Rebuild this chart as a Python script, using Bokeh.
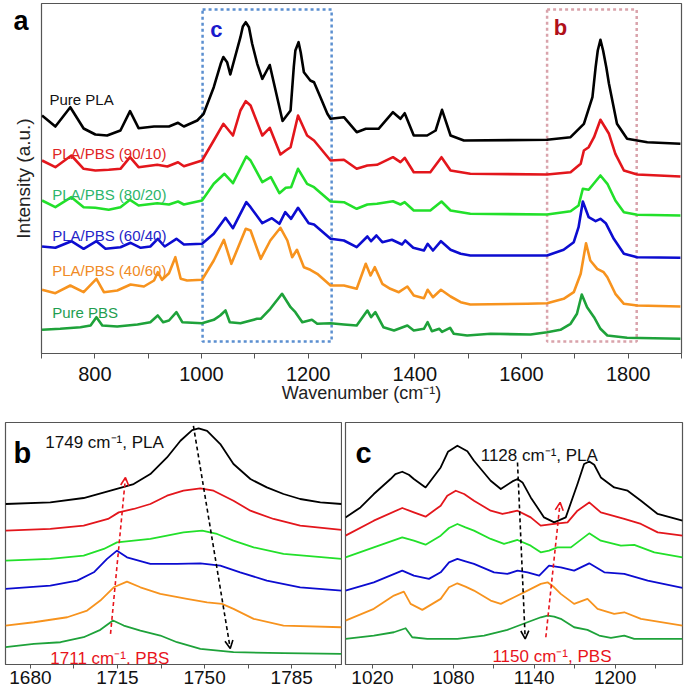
from bokeh.plotting import figure
from bokeh.models import Range1d, FixedTicker, Label, Arrow, OpenHead
from bokeh.layouts import column, row
from bokeh.embed import file_html
from bokeh.resources import INLINE

FONT = "Liberation Sans"

# ---------------- data ----------------
series_names = ["Pure PLA", "PLA/PBS (90/10)", "PLA/PBS (80/20)",
                "PLA/PBS (60/40)", "PLA/PBS (40/60)", "Pure PBS"]
line_colors = ["#000000", "#e3161c", "#22e02a", "#0c0cd0", "#f7931e", "#1ea23a"]
label_colors = ["#111111", "#e02424", "#2cb56b", "#2424c8", "#f08a24", "#1e9e50"]

# panel a : full spectra (stacked, arbitrary units)
a_pla_w = [701, 726, 754, 779, 801, 823, 848, 866, 882, 911, 939, 956, 967, 992, 1004, 1023, 1036, 1041, 1048,
           1054, 1073, 1077.5, 1083, 1089, 1095, 1104.5, 1114, 1128, 1152, 1167, 1173, 1176, 1182, 1186, 1192,
           1204, 1211, 1223, 1236, 1242, 1267, 1291, 1308, 1332, 1359, 1373, 1381, 1398, 1423, 1439, 1451,
           1467, 1492, 1648, 1692, 1717, 1733, 1739, 1743, 1748, 1753, 1759, 1764, 1779, 1798, 1836, 1898]
a_pla_y = [238, 227, 246.3, 225, 219, 218, 223, 242.3, 225.3, 227, 227, 230.7, 227, 233, 239.7, 266.3, 289.7,
           296.5, 291.3, 279, 316.3, 327, 331.3, 326.3, 309.7, 289.7, 274.7, 288.5, 232.5, 243, 286.3, 303,
           311.3, 301.3, 281.3, 273, 271.3, 256.3, 239.7, 234.7, 236.3, 221.3, 224.7, 224.7, 241.3, 234.7,
           240.3, 218, 218, 223, 243.7, 218, 213, 213.7, 216.3, 229.7, 256.3, 286.3, 303, 313.7, 303, 286.3,
           269.7, 229.7, 214.7, 211.3, 209.7]

a_9010_w = [701, 726, 756, 779, 801, 826, 848, 866, 882, 917, 936, 956, 967, 1001, 1023, 1041, 1059, 1073,
            1083, 1092, 1114, 1128, 1148, 1158, 1167, 1181, 1198, 1211, 1242, 1267, 1291, 1311, 1329, 1359,
            1373, 1381, 1398, 1429, 1450, 1467, 1504, 1648, 1692, 1711, 1717, 1726, 1736, 1748, 1764, 1776,
            1792, 1817, 1898]
a_9010_y = [193, 186.3, 198, 184.7, 183, 183.7, 184.7, 196.3, 186.3, 188.7, 187, 191.3, 187.3, 193, 213, 229.7,
            218, 243, 252.3, 248, 218, 225.7, 199, 203, 206.3, 238, 218, 213, 193, 193.7, 184.7, 188, 188.7,
            196.3, 191.3, 195.7, 181.3, 181.3, 196.3, 183, 179.7, 179, 181.3, 189.7, 203, 206.3, 216.3, 233.7,
            219.7, 199.7, 183, 179, 177]

a_8020_w = [701, 726, 756, 779, 801, 826, 848, 866, 882, 917, 939, 956, 967, 1001, 1023, 1043, 1059, 1084,
            1092, 1114, 1130, 1146, 1158, 1168, 1181, 1198, 1211, 1242, 1267, 1291, 1311, 1329, 1359, 1373,
            1381, 1398, 1429, 1450, 1467, 1504, 1648, 1692, 1707, 1715, 1726, 1748, 1761, 1776, 1792, 1817,
            1898]
a_8020_y = [153, 146.3, 156.3, 146.3, 145.7, 143.7, 146.3, 153.7, 148, 150.3, 149, 152, 149, 153, 169.7, 179.7,
            170.3, 197, 193, 171.3, 176.3, 160.3, 165.7, 166.3, 184.7, 169.7, 166.3, 152, 151.3, 144.7, 149,
            149.7, 152.3, 149, 151.3, 143, 143, 152, 143, 139.7, 139, 142.3, 148, 164.7, 163.7, 178, 169.7,
            153, 141.3, 138.7, 138]

a_6040_w = [701, 726, 756, 779, 803, 820, 848, 867, 886, 904, 918, 931, 953, 967, 1001, 1023, 1045, 1059,
            1084, 1092, 1114, 1132, 1146, 1157, 1168, 1181, 1201, 1211, 1242, 1267, 1291, 1311, 1318, 1328,
            1339, 1357, 1376, 1382, 1397, 1417, 1424, 1434, 1449, 1467, 1486, 1504, 1648, 1679, 1698, 1707,
            1715, 1726, 1739, 1748, 1758, 1773, 1792, 1817, 1898]
a_6040_y = [107, 105.7, 112.3, 104.7, 112.3, 104.7, 106.3, 110.7, 105.7, 107, 114.7, 107, 114.7, 109, 109.7,
            119.7, 135.7, 125.3, 151.3, 146.3, 130.3, 135.3, 129.7, 141.3, 134.7, 145.7, 130.3, 129, 114.7,
            113, 106.3, 117, 112.3, 118, 111.3, 113.7, 109, 113, 105.7, 103, 109.7, 103, 112.3, 103.7, 99.7,
            98, 98, 103.7, 111.3, 126.3, 152, 136.3, 132.3, 134.7, 130.3, 114.7, 99.7, 96.3, 95.7]

a_4060_w = [701, 726, 754, 779, 803, 817, 842, 867, 892, 911, 918, 926, 939, 951, 961, 973, 1001, 1023, 1042,
            1056, 1083, 1092, 1111, 1129, 1148, 1161, 1170, 1179, 1192, 1204, 1217, 1242, 1267, 1291, 1308,
            1317, 1325, 1339, 1354, 1370, 1386, 1398, 1417, 1424, 1434, 1449, 1467, 1486, 1504, 1611, 1648,
            1679, 1698, 1711, 1721, 1729, 1742, 1754, 1761, 1776, 1792, 1817, 1898]
a_4060_y = [63.7, 60.3, 68, 61.3, 74.7, 61.3, 63, 69, 67, 73, 81.3, 73.7, 80.3, 96.3, 74.7, 73, 73.7, 93,
            113.7, 89.7, 124.7, 123, 94.7, 113, 125.7, 113, 96.3, 103.7, 86.3, 83.7, 79.7, 68, 68, 64.7, 89.7,
            78, 86.3, 69.7, 64.7, 61.3, 67, 58, 55.3, 63.7, 56.3, 63.7, 57, 51.3, 49, 49.7, 50.3, 54.7, 61.3,
            79.7, 110.3, 93, 84.7, 81.3, 76.3, 59.7, 49.7, 48, 47]

a_pbs_w = [701, 735, 773, 792, 803, 814, 842, 880, 904, 918, 928, 939, 953, 964, 1001, 1023, 1035, 1045, 1053,
           1073, 1104, 1111, 1129, 1151, 1167, 1176, 1189, 1207, 1217, 1242, 1267, 1291, 1311, 1318, 1326,
           1341, 1361, 1386, 1398, 1417, 1424, 1432, 1446, 1451, 1466, 1473, 1498, 1542, 1617, 1648, 1673,
           1692, 1704, 1713, 1723, 1736, 1748, 1761, 1798, 1898]
a_pbs_y = [23.7, 24.7, 26.3, 28, 36.3, 28, 27, 29, 31.3, 38, 31.3, 33, 41.3, 31.3, 30.3, 33.7, 38, 43, 31.3,
           30.3, 34.7, 34.7, 44.7, 59.7, 46.3, 41.3, 31.3, 33.7, 29.7, 30.3, 29, 28, 43, 36.3, 41.3, 26.3, 23,
           28, 23, 24.7, 31.3, 22.3, 24.7, 21.7, 25.7, 19.7, 18, 19.7, 19, 21.3, 23.7, 29.7, 39.7, 59, 46.3,
           36.3, 24.7, 18, 15.7, 14.7]

a_label_x = [715, 720, 720, 720, 720, 720]
a_label_y = [254, 200.3, 159.3, 117.7, 82.7, 40.7]

# zoom windows marked in panel a
window_c = [1002, 1244]
window_b = [1648, 1816]

# panel b : C=O region
b_pla_w = [1670, 1688, 1701.4, 1712.2, 1721.5, 1728.2, 1734.9, 1740.3, 1745, 1747.6, 1751, 1756.3, 1761.6,
           1768.4, 1775, 1781.7, 1788.4, 1796.5, 1805]
b_pla_y = [160.7, 162.3, 166.7, 174, 180.7, 190.7, 207.3, 224, 234.7, 236.3, 234, 220.7, 200.7, 185.7, 177.3,
           170.7, 165.7, 162.3, 160.7]
b_9010_w = [1670, 1688, 1701.4, 1711.2, 1715.5, 1721.5, 1728.2, 1734.9, 1741.5, 1748.3, 1753.6, 1761.6,
            1768.4, 1777.7, 1788.4, 1805]
b_9010_y = [134, 135.7, 139, 145.7, 152.3, 155.7, 160.7, 169, 174, 176.3, 174, 164, 154, 145.7, 139, 134.7]
b_8020_w = [1670, 1688, 1701.4, 1709.5, 1714.8, 1721.5, 1728.2, 1734.9, 1741.5, 1749, 1755, 1761.6, 1769.7,
            1781.7, 1805]
b_8020_y = [104, 105.7, 109, 115.7, 122.3, 124, 125.7, 129, 132.3, 134, 130.7, 124, 117.3, 110.7, 105.7]
b_6040_w = [1670, 1688, 1698.8, 1705.5, 1710.8, 1714.8, 1718.8, 1728.2, 1738.9, 1748.3, 1756.3, 1764.3,
            1775, 1788.4, 1805]
b_6040_y = [75.7, 79, 84, 92.3, 105.7, 114, 107.3, 100.7, 100.7, 101.3, 99, 92.3, 84, 77.3, 74]
b_4060_w = [1670, 1681.4, 1694.8, 1702.8, 1708.1, 1713.5, 1718.8, 1724.2, 1732.2, 1742.9, 1751, 1757,
            1761.6, 1769.7, 1781.7, 1805]
b_4060_y = [39, 42.3, 47.3, 54, 64, 77.3, 83, 77.3, 70.7, 65.7, 62.3, 60.7, 55.7, 45.7, 39, 37.3]
b_pbs_w = [1670, 1681.4, 1692.1, 1701.4, 1708.1, 1713.2, 1717.5, 1724.2, 1732.2, 1738.9, 1748.3, 1761.6,
           1781.7, 1805]
b_pbs_y = [17.3, 20.7, 22.3, 27.3, 34.7, 44, 39, 34, 29, 22.3, 15.7, 12.3, 11.3, 10.7]

# panel c : C-O-C region
c_pla_w = [1000, 1011.1, 1021, 1033.4, 1037, 1042.1, 1047, 1050.7, 1059.4, 1070.6, 1076, 1083, 1090.4, 1095.3,
           1107.7, 1115.2, 1123.8, 1127.6, 1131.3, 1137.4, 1147.3, 1154.8, 1163.4, 1172.1, 1177, 1180.8,
           1184.5, 1189.4, 1199.3, 1209.3, 1219.2, 1231.6, 1250]
c_pla_y = [147.3, 157.3, 170.7, 185.7, 190.7, 193, 190, 185.7, 177.3, 197.3, 213, 219, 213.5, 204, 184, 175.7,
           183.3, 185.7, 182.3, 167.3, 147.3, 142.3, 147.3, 180.7, 200.7, 203.3, 200, 187.3, 177.3, 174, 164,
           150.7, 144]
c_9010_w = [1000, 1021, 1042.1, 1050.7, 1059.4, 1070.6, 1075.5, 1081.8, 1088, 1095.3, 1107.7, 1116.4, 1127.6,
            1137.4, 1144.8, 1154.8, 1164.7, 1172.1, 1180.8, 1189.4, 1206.8, 1219.2, 1231.6, 1250]
c_9010_y = [129, 144, 156.7, 152.3, 148, 159, 169, 174, 170.7, 164, 154, 150.7, 154, 147.3, 139, 140.7, 142.3,
            154, 162.3, 152.3, 145.7, 140.7, 132.3, 129]
c_8020_w = [1000, 1021, 1042.1, 1050.7, 1059.4, 1070.6, 1076.8, 1083, 1089, 1095.3, 1107.7, 1117.6, 1127.6,
            1137.4, 1144.8, 1151, 1157.2, 1167.2, 1180.8, 1189.4, 1204.3, 1214.2, 1229.1, 1250]
c_8020_y = [107.3, 117.3, 127.3, 124, 120, 129, 136.7, 140.7, 137.3, 134, 125.7, 120.7, 124.7, 119, 112.3, 114,
            117.3, 117.3, 131.3, 124, 119, 119.7, 112.3, 107.3]
c_6040_w = [1000, 1021, 1042.1, 1050.7, 1061.9, 1070.6, 1076.8, 1083, 1089, 1095.3, 1110.2, 1120.1, 1127.6,
            1135, 1143.7, 1151, 1159.7, 1169.6, 1180.8, 1192, 1206.8, 1224.2, 1250]
c_6040_y = [74, 82.3, 94, 89, 85.7, 92.3, 102.3, 105.7, 103.3, 100.7, 92.3, 90.7, 94, 92.3, 89, 99, 97.3, 94,
            101.3, 92.3, 90.7, 84, 76.7]
c_4060_w = [1000, 1021, 1035.9, 1043.3, 1048.3, 1057, 1070.6, 1076.8, 1083, 1089, 1095.3, 1107.7, 1115.2,
            1125.1, 1135, 1144.9, 1149.9, 1154.8, 1159.7, 1169.6, 1179.5, 1187, 1199.3, 1206.8, 1219.2, 1250]
c_4060_y = [44, 55.7, 69, 73, 60.7, 54.7, 65.7, 77.3, 81.3, 78, 74, 64, 60.7, 67.3, 74, 80.7, 82.3, 77.3, 70.7,
            60.7, 65.7, 55.7, 50.7, 52.3, 45.7, 39]
c_pbs_w = [1000, 1021, 1035.9, 1044.6, 1049.5, 1060.7, 1083, 1102.8, 1120.1, 1135, 1144.9, 1149.9, 1154.8,
           1159.7, 1169.6, 1179.5, 1188.2, 1196.9, 1206.8, 1214.2, 1250]
c_pbs_y = [25.7, 29, 32.3, 36.3, 27.3, 25.7, 25.7, 29, 34.7, 42.3, 47.3, 49, 48, 45.7, 37.3, 34.7, 29, 26.7,
           29, 25.7, 25.7]

# tick labels
a_ticks = [800, 1000, 1200, 1400, 1600, 1800]
a_minor = [700, 900, 1100, 1300, 1500, 1700, 1900]
b_ticks = [1680, 1715, 1750, 1785]
b_minor = [1697.5, 1732.5, 1767.5, 1802.5]
c_ticks = [1020, 1080, 1140, 1200]
c_minor = [1050, 1110, 1170, 1230]

# annotation anchors (wavenumber, intensity)
b_arrow_pla = (1745.5, 239, 1760.3, 16)
b_arrow_pbs = (1712.2, 30.7, 1718.2, 187.3)
c_arrow_pla = (1127.6, 202.3, 1133.3, 25.7)
c_arrow_pbs = (1148.6, 27.3, 1159.2, 162.3)
panel_a_letter_y = 333

a_series = [(a_pla_w, a_pla_y), (a_9010_w, a_9010_y), (a_8020_w, a_8020_y),
            (a_6040_w, a_6040_y), (a_4060_w, a_4060_y), (a_pbs_w, a_pbs_y)]
b_series = [(b_pla_w, b_pla_y), (b_9010_w, b_9010_y), (b_8020_w, b_8020_y),
            (b_6040_w, b_6040_y), (b_4060_w, b_4060_y), (b_pbs_w, b_pbs_y)]
c_series = [(c_pla_w, c_pla_y), (c_9010_w, c_9010_y), (c_8020_w, c_8020_y),
            (c_6040_w, c_6040_y), (c_4060_w, c_4060_y), (c_pbs_w, c_pbs_y)]

FRAME = "#555555"


def style_xaxis(p, ticks, minor, size, tick_len, standoff):
    ax = p.xaxis[0]
    ax.ticker = FixedTicker(ticks=ticks, minor_ticks=minor)
    ax.major_tick_out = tick_len
    ax.major_tick_in = 0
    ax.minor_tick_out = tick_len
    ax.minor_tick_in = 0
    ax.major_tick_line_color = FRAME
    ax.minor_tick_line_color = FRAME
    ax.axis_line_color = FRAME
    ax.major_label_text_font = FONT
    ax.major_label_text_font_size = size
    ax.major_label_text_color = "#111111"
    ax.major_label_standoff = standoff


def base_fig(w, h, xr, yr, mb):
    p = figure(width=w, height=h, x_range=Range1d(*xr), y_range=Range1d(*yr),
               output_backend="svg", toolbar_location=None,
               min_border_left=mb[0], min_border_right=mb[1],
               min_border_top=mb[2], min_border_bottom=mb[3])
    p.xgrid.visible = False
    p.ygrid.visible = False
    p.outline_line_color = FRAME
    p.outline_line_width = 1.2
    p.background_fill_color = "white"
    p.border_fill_color = "white"
    return p


# ---------------- panel a ----------------
pa = base_fig(685, 410, (700, 1900), (0, 350), (41, 4, 3, 57))
style_xaxis(pa, a_ticks, a_minor, "20px", 5, 8)
pa.xaxis.axis_label = "Wavenumber (cm\u207b\u00b9)"
pa.xaxis.axis_label_text_font = FONT
pa.xaxis.axis_label_text_font_style = "normal"
pa.xaxis.axis_label_text_font_size = "18px"
pa.xaxis.axis_label_text_color = "#222222"
pa.xaxis.axis_label_standoff = -1
ya = pa.yaxis[0]
ya.ticker = FixedTicker(ticks=[panel_a_letter_y])
ya.major_label_overrides = {panel_a_letter_y: "a"}
ya.major_label_text_font = FONT
ya.major_label_text_font_size = "27px"
ya.major_label_text_font_style = "bold"
ya.major_label_text_color = "#000000"
ya.major_label_standoff = 7
ya.axis_line_color = None
ya.major_tick_line_color = None
ya.minor_tick_line_color = None
ya.axis_label = "Intensity (a.u.)"
ya.axis_label_text_font = FONT
ya.axis_label_text_font_style = "normal"
ya.axis_label_text_font_size = "19px"
ya.axis_label_text_color = "#222222"
ya.axis_label_standoff = -24

pa.quad(left=[window_c[0]], right=[window_c[1]], bottom=[12], top=[344], fill_color=None,
        line_color="#5b8fd0", line_width=2.5, line_dash="3 3")
pa.quad(left=[window_b[0]], right=[window_b[1]], bottom=[12], top=[344], fill_color=None,
        line_color="#d9a3ab", line_width=2.5, line_dash="3 3")

for (xs, ys), col in zip(a_series, line_colors):
    pa.line(xs, ys, line_color=col, line_width=2.6, line_join="round")

for name, col, lx, ly in zip(series_names, label_colors, a_label_x, a_label_y):
    pa.add_layout(Label(x=lx, y=ly, text=name, text_font=FONT, text_font_size="15px",
                        text_color=col, text_baseline="alphabetic", text_align="left"))

pa.add_layout(Label(x=1028, y=324, text="c", text_font=FONT, text_font_size="22px",
                    text_font_style="bold", text_color="#1a1acc", text_align="center",
                    text_baseline="middle"))
pa.add_layout(Label(x=1673, y=326, text="b", text_font=FONT, text_font_size="22px",
                    text_font_style="bold", text_color="#b0101a", text_align="center",
                    text_baseline="middle"))

# ---------------- panel b ----------------
pb = base_fig(342, 281, (1670, 1805), (0, 242.3), (5, 1, 12, 27))
style_xaxis(pb, b_ticks, b_minor, "19px", 4, 2)
pb.yaxis.visible = False
for (xs, ys), col in zip(b_series, line_colors):
    pb.line(xs, ys, line_color=col, line_width=1.8, line_join="round")

pb.add_layout(Arrow(x_start=b_arrow_pla[0], y_start=b_arrow_pla[1], x_end=b_arrow_pla[2],
                    y_end=b_arrow_pla[3], line_color="#000000", line_width=1.6, line_dash="4 3",
                    end=OpenHead(size=8, line_color="#000000", line_width=1.6)))
pb.add_layout(Arrow(x_start=b_arrow_pbs[0], y_start=b_arrow_pbs[1], x_end=b_arrow_pbs[2],
                    y_end=b_arrow_pbs[3], line_color="#e8141c", line_width=1.6, line_dash="4 3",
                    end=OpenHead(size=8, line_color="#e8141c", line_width=1.6)))
pb.add_layout(Label(x=1673.2, y=212, text="b", text_font=FONT, text_font_size="29px",
                    text_font_style="bold", text_color="#000000", text_baseline="alphabetic"))
pb.add_layout(Label(x=1686, y=222, text="1749 cm\u207b\u00b9, PLA", text_font=FONT,
                    text_font_size="17px", text_color="#111111", text_baseline="alphabetic"))
pb.add_layout(Label(x=1688, y=6, text="1711 cm\u207b\u00b9, PBS", text_font=FONT,
                    text_font_size="17px", text_color="#e8141c", text_baseline="alphabetic"))

# ---------------- panel c ----------------
pc = base_fig(343, 281, (1000, 1250), (0, 242.3), (3, 3, 12, 27))
style_xaxis(pc, c_ticks, c_minor, "19px", 4, 2)
pc.yaxis.visible = False
for (xs, ys), col in zip(c_series, line_colors):
    pc.line(xs, ys, line_color=col, line_width=1.8, line_join="round")

pc.add_layout(Arrow(x_start=c_arrow_pla[0], y_start=c_arrow_pla[1], x_end=c_arrow_pla[2],
                    y_end=c_arrow_pla[3], line_color="#000000", line_width=1.6, line_dash="4 3",
                    end=OpenHead(size=8, line_color="#000000", line_width=1.6)))
pc.add_layout(Arrow(x_start=c_arrow_pbs[0], y_start=c_arrow_pbs[1], x_end=c_arrow_pbs[2],
                    y_end=c_arrow_pbs[3], line_color="#e8141c", line_width=1.6, line_dash="4 3",
                    end=OpenHead(size=8, line_color="#e8141c", line_width=1.6)))
pc.add_layout(Label(x=1007.4, y=212, text="c", text_font=FONT, text_font_size="29px",
                    text_font_style="bold", text_color="#000000", text_baseline="alphabetic"))
pc.add_layout(Label(x=1100.3, y=209, text="1128 cm\u207b\u00b9, PLA", text_font=FONT,
                    text_font_size="17px", text_color="#111111", text_baseline="alphabetic"))
pc.add_layout(Label(x=1109, y=8, text="1150 cm\u207b\u00b9, PBS", text_font=FONT,
                    text_font_size="17px", text_color="#e8141c", text_baseline="alphabetic"))

layout = column(pa, row(pb, pc))
open("out.html", "w").write(file_html(layout, INLINE))
